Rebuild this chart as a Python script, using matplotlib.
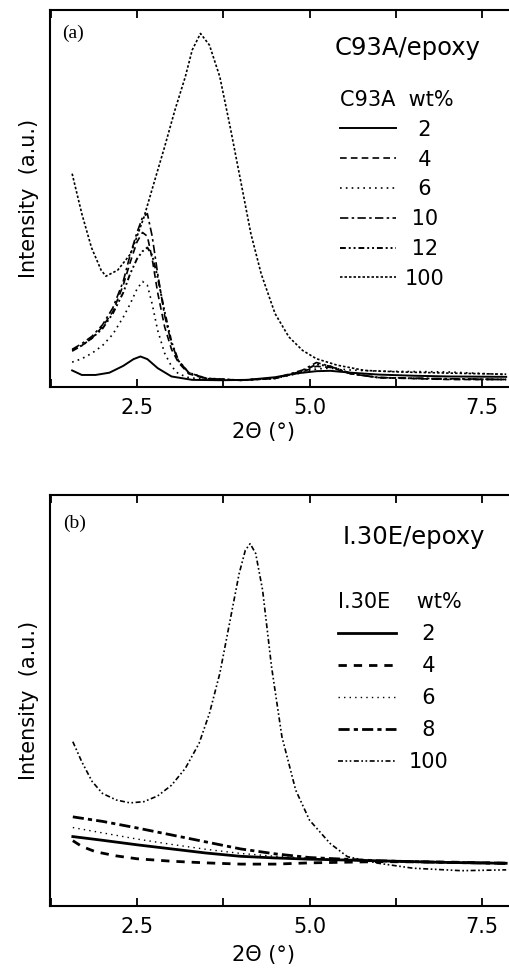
import matplotlib
matplotlib.use('Agg')
import matplotlib.pyplot as plt
from matplotlib.ticker import MultipleLocator

plt.rcParams['font.family'] = ['DejaVu Sans']

# panel (a): C93A/epoxy
a_x100 = [1.56, 1.70, 1.84, 1.98, 2.05, 2.22, 2.41, 2.6, 2.75, 2.9, 3.05, 3.2, 3.3, 3.42,
          3.55, 3.7, 3.85, 4.0, 4.15, 4.3, 4.5, 4.7, 4.9, 5.1, 5.4, 5.8, 6.3, 7.0, 7.85]
a_y100 = [56.6, 46, 37, 31, 29.4, 31, 35.4, 45, 54.4, 63.7, 73.5, 82.3, 89.4, 93.8,
          90.7, 82.3, 69, 54.9, 40.7, 30, 19.5, 13.3, 9.7, 7.5, 5.8, 4.4, 4.0, 3.7, 3.4]

a_x2 = [1.56, 1.7, 1.9, 2.1, 2.3, 2.45, 2.55, 2.65, 2.8, 3.0, 3.3, 3.7, 4.1, 4.5, 4.8,
        5.1, 5.3, 5.6, 6.0, 6.5, 7.0, 7.85]
a_y2 = [4.4, 3.2, 3.2, 3.8, 5.6, 7.4, 8.1, 7.4, 5.0, 2.8, 1.9, 1.8, 1.9, 2.6, 3.6,
        4.2, 4.3, 3.8, 3.3, 3.0, 2.8, 2.7]

a_xlow = [1.56, 1.7, 1.85, 2.0, 2.15, 2.3, 2.4, 2.5, 2.58, 2.65, 2.72, 2.8, 2.9, 3.0,
          3.1, 3.25, 3.5, 4.0, 4.5, 4.9, 5.1, 5.3, 5.6, 6.0, 7.0, 7.85]
a_y4 = [9.5, 11, 13, 16, 20, 27, 33, 38.5, 41, 40, 34, 25, 16, 10,
        6.5, 3.5, 2.2, 1.8, 2.3, 4.0, 5.5, 5.2, 3.5, 2.5, 2.0, 2.0]
a_y6 = [6.6, 7.5, 9, 11, 14, 18.5, 22, 26, 28, 27, 22, 15, 9, 5.5,
        3.5, 2.5, 2.0, 1.8, 2.3, 3.8, 4.8, 5.0, 4.5, 4.2, 4.0, 3.3]
a_y10 = [10, 11.5, 13.5, 16.5, 21, 28, 35, 41, 45, 46, 40, 30, 19, 11.5,
         7, 3.8, 2.3, 1.8, 2.3, 4.5, 6.5, 5.5, 3.5, 2.5, 2.2, 2.0]
a_y12 = [9.8, 11, 13, 15.5, 19.5, 25, 30, 34, 36, 37, 35, 29, 20, 12,
         7, 3.8, 2.3, 1.8, 2.3, 4.2, 6.0, 5.5, 3.6, 2.5, 2.1, 2.0]

# panel (b): I.30E/epoxy
b_x100 = [1.57, 1.7, 1.85, 2.0, 2.2, 2.4, 2.6, 2.8, 3.0, 3.2, 3.4, 3.55, 3.7, 3.85, 3.98,
          4.07, 4.14, 4.22, 4.32, 4.45, 4.6, 4.8, 5.0, 5.3, 5.55, 6.0, 6.5, 7.2, 7.85]
b_y100 = [40, 35.1, 30.3, 27.4, 25.8, 25.1, 25.4, 26.8, 29.4, 33.5, 39.6, 46.9, 56.6, 69.6, 80.9,
          86.6, 88.2, 85.8, 76.9, 58.2, 41.2, 28.2, 20.9, 15.2, 12.0, 10.4, 9.2, 8.6, 8.8]

b_xlow = [1.57, 2.0, 2.5, 3.0, 3.5, 4.0, 4.5, 5.0, 6.0, 7.0, 7.85]
b_y2 = [16.9, 16.0, 14.9, 13.9, 12.9, 12.1, 11.7, 11.4, 11.0, 10.6, 10.4]
b_y6 = [19.1, 17.8, 16.3, 15.0, 13.8, 12.8, 12.1, 11.6, 11.0, 10.6, 10.4]
b_y8 = [21.7, 20.6, 19.0, 17.3, 15.6, 13.9, 12.7, 11.8, 11.0, 10.6, 10.4]
b_x4 = [1.57, 1.7, 1.9, 2.2, 2.5, 3.0, 3.5, 4.0, 4.5, 5.0, 6.0, 7.0, 7.85]
b_y4 = [15.9, 14.5, 13.2, 12.2, 11.5, 10.9, 10.5, 10.2, 10.2, 10.5, 10.8, 10.7, 10.4]

a_labels = ['  2', '  4', '  6', ' 10', ' 12', '100']
b_labels = ['  2', '  4', '  6', '  8', '100']

fig = plt.figure(figsize=(5.1, 9.69), dpi=100)
ax1 = fig.add_axes([0.098, 0.6006, 0.95, 0.389])
ax2 = fig.add_axes([0.098, 0.065, 0.95, 0.424])

k = dict(color='black')
ax1.plot(a_x2, a_y2, lw=1.4, ls='-', **k)
ax1.plot(a_xlow, a_y4, lw=1.2, ls=(0, (4, 2.5)), **k)
ax1.plot(a_xlow, a_y6, lw=1.2, ls=(0, (1, 2.5)), **k)
ax1.plot(a_xlow, a_y10, lw=1.2, ls=(0, (5, 2, 1.5, 2)), **k)
ax1.plot(a_xlow, a_y12, lw=1.4, ls=(0, (3, 1.5, 1, 1.5, 1, 1.5)), **k)
ax1.plot(a_x100, a_y100, lw=1.2, ls=(0, (1.5, 1.2)), **k)

ax2.plot(b_xlow, b_y2, lw=2.0, ls='-', **k)
ax2.plot(b_x4, b_y4, lw=2.0, ls=(0, (3, 2.5)), **k)
ax2.plot(b_xlow, b_y6, lw=1.0, ls=(0, (1, 3)), **k)
ax2.plot(b_xlow, b_y8, lw=2.0, ls=(0, (4, 1.5, 1.5, 1.5)), **k)
ax2.plot(b_x100, b_y100, lw=1.2, ls=(0, (3, 1.5, 1, 1.5, 1, 1.5)), **k)

for ax in (ax1, ax2):
    ax.set_xlim(1.239, 8.26)
    ax.set_ylim(0, 100)
    ax.xaxis.set_major_locator(MultipleLocator(2.5))
    ax.xaxis.set_minor_locator(MultipleLocator(1.25))
    ax.tick_params(axis='x', which='both', direction='in', top=True, length=6,
                   width=1.3, labelsize=15, pad=8)
    ax.tick_params(axis='y', left=False, labelleft=False)
    ax.xaxis.set_major_formatter(plt.FuncFormatter(lambda v, p: '%.1f' % v))
    ax.spines['right'].set_visible(False)
    for s in ('left', 'top', 'bottom'):
        ax.spines[s].set_linewidth(1.5)
    ax.set_ylabel('Intensity  (a.u.)', fontsize=15, labelpad=8)
    ax.set_xlabel('2Θ (°)', fontsize=15)

ax1.xaxis.set_label_coords(0.44, -0.093)
ax2.xaxis.set_label_coords(0.44, -0.095)

ax1.text(0.025, 0.939, '(a)', transform=ax1.transAxes, family='Liberation Serif',
         fontsize=14, va='center')
ax2.text(0.027, 0.932, '(b)', transform=ax2.transAxes, family='Liberation Serif',
         fontsize=14, va='center')
fig.text(335 / 510, 1 - 48 / 969, 'C93A/epoxy', fontsize=17.5, va='center')
fig.text(343 / 510, 1 - 537 / 969, 'I.30E/epoxy', fontsize=17.5, va='center')

leg1 = ax1.legend(ax1.get_lines(), a_labels, title='C93A  wt%', alignment='left',
                  loc='upper left', bbox_to_anchor=(340 / 510, 1 - 90 / 969),
                  bbox_transform=fig.transFigure, frameon=False, fontsize=15,
                  title_fontsize=15, handlelength=2.7, handletextpad=0.4,
                  labelspacing=0.47, borderpad=0, borderaxespad=0)
leg2 = ax2.legend(ax2.get_lines(), b_labels, title='I.30E    wt%', alignment='left',
                  loc='upper left', bbox_to_anchor=(338 / 510, 1 - 592 / 969),
                  bbox_transform=fig.transFigure, frameon=False, fontsize=15,
                  title_fontsize=15, handlelength=2.8, handletextpad=0.6,
                  labelspacing=0.58, borderpad=0, borderaxespad=0)

fig.savefig('out.png', dpi=100)
